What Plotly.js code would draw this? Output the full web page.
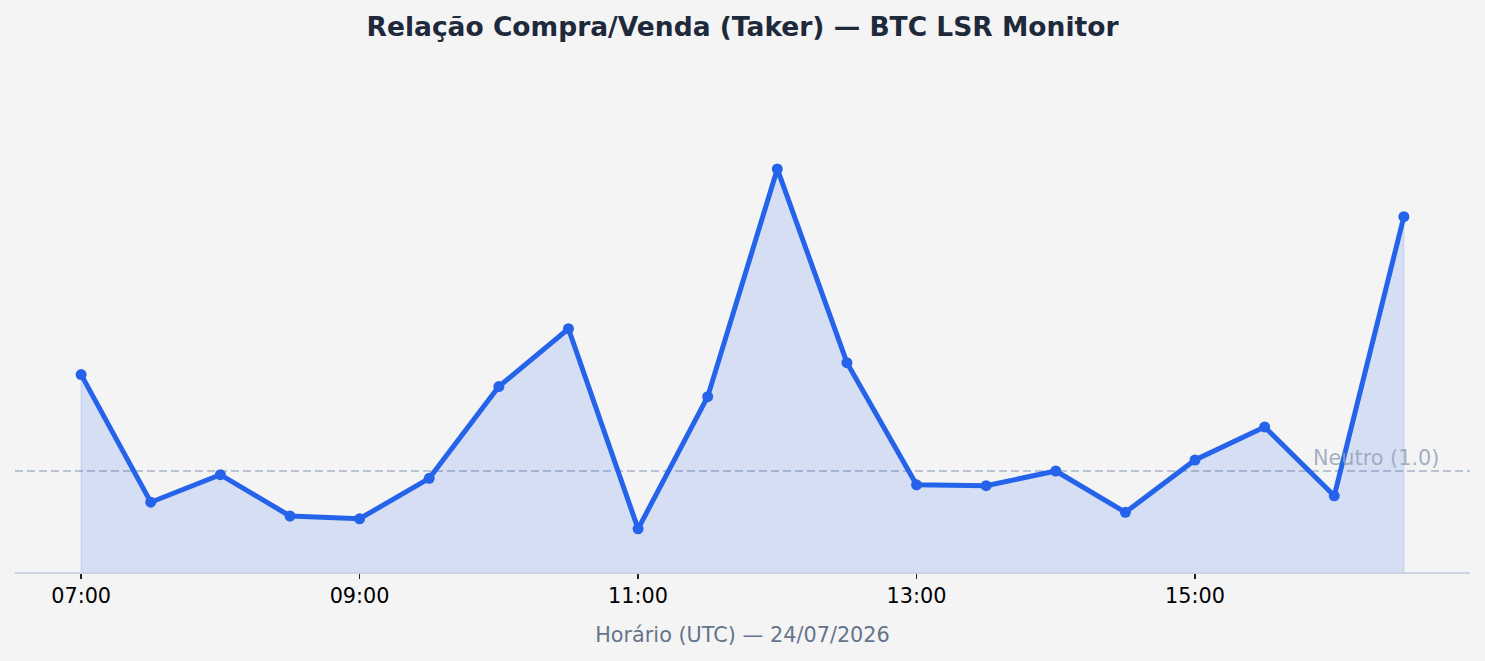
<!DOCTYPE html>
<html>
<head>
<meta charset="utf-8">
<script src="https://cdn.plot.ly/plotly-3.0.1.min.js"></script>
<style>
  html, body { margin: 0; padding: 0; background: #f4f4f4; }
  #chart { width: 1485px; height: 661px; }
</style>
</head>
<body>
<div id="chart"></div>
<script>
// taker buy/sell ratio, every 30 min on 24/07/2026
const times = [
  "2026-07-24 07:00", "2026-07-24 07:30", "2026-07-24 08:00", "2026-07-24 08:30",
  "2026-07-24 09:00", "2026-07-24 09:30", "2026-07-24 10:00", "2026-07-24 10:30",
  "2026-07-24 11:00", "2026-07-24 11:30", "2026-07-24 12:00", "2026-07-24 12:30",
  "2026-07-24 13:00", "2026-07-24 13:30", "2026-07-24 14:00", "2026-07-24 14:30",
  "2026-07-24 15:00", "2026-07-24 15:30", "2026-07-24 16:00", "2026-07-24 16:30"
];
const ratio = [
  1.105, 0.966, 0.996, 0.951, 0.948, 0.992, 1.092, 1.155, 0.937, 1.081,
  1.329, 1.118, 0.985, 0.984, 1.000, 0.955, 1.012, 1.048, 0.973, 1.277
];
const neutral = 1.0;
const neutralLabel = "Neutro (1.0)";

const yMin = 0.89, yMax = 1.4477;
const blue = "#2563eb";

// area under the line, closed down to the bottom of the axis
const fillX = [times[0]].concat(times, [times[times.length - 1]]);
const fillY = [yMin].concat(ratio, [yMin]);

const data = [
  {
    x: fillX, y: fillY, type: "scatter", mode: "lines",
    fill: "toself", fillcolor: "rgba(37,99,235,0.15)",
    line: {color: "rgba(37,99,235,0.12)", width: 1.5},
    hoverinfo: "skip", showlegend: false
  },
  {
    x: times, y: ratio, type: "scatter", mode: "lines+markers",
    line: {color: blue, width: 5},
    marker: {color: blue, size: 11},
    showlegend: false
  }
];

const layout = {
  width: 1485, height: 661,
  paper_bgcolor: "#f4f4f4", plot_bgcolor: "#f4f4f4",
  margin: {l: 15, r: 15, t: 60, b: 89},
  font: {family: "DejaVu Sans", color: "#000"},
  title: {
    text: "<b>Relação Compra/Venda (Taker) — BTC LSR Monitor</b>",
    font: {family: "DejaVu Sans", size: 26.5, color: "#1e293b"},
    x: 0.5, xanchor: "center", y: 0.959, yanchor: "middle", yref: "container"
  },
  xaxis: {
    type: "date",
    range: ["2026-07-24 06:31:30", "2026-07-24 16:58:30"],
    tick0: "2026-07-24 07:00", dtick: 7200000, tickformat: "%H:%M",
    showgrid: false, zeroline: false,
    showline: true, linecolor: "#cbd5e1", linewidth: 1.5,
    ticks: "outside", ticklen: 5, tickwidth: 1.5, tickcolor: "#222",
    tickfont: {size: 20.8, color: "#000"},
    title: {text: "Horário (UTC) — 24/07/2026", standoff: 20,
            font: {size: 20.8, color: "#64748b"}}
  },
  yaxis: {
    range: [yMin, yMax],
    showgrid: false, zeroline: false, showline: false,
    showticklabels: false, ticks: ""
  },
  shapes: [{
    type: "line", xref: "paper", x0: 0, x1: 1, yref: "y", y0: neutral, y1: neutral,
    line: {color: "rgba(148,163,184,0.8)", width: 1.6, dash: "8px,4px"},
    layer: "below"
  }],
  annotations: [{
    xref: "paper", x: 0.98, xanchor: "right",
    yref: "y", y: neutral, yanchor: "bottom", yshift: -1,
    text: neutralLabel, showarrow: false,
    font: {size: 20.8, color: "rgba(148,163,184,0.85)"}
  }]
};

Plotly.newPlot("chart", data, layout, {displayModeBar: false, staticPlot: true});
</script>
</body>
</html>
